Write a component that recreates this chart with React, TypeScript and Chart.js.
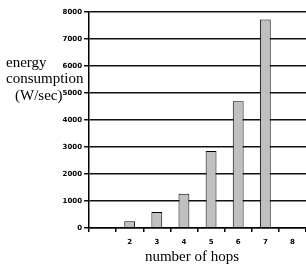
import React, { useEffect, useRef } from "react";
import { Chart, registerables } from "chart.js";

Chart.register(...registerables);

const hops = ["", "2", "3", "4", "5", "6", "7", "8"];
const energy = [0, 250, 590, 1270, 2850, 4690, 7720, 0];
const yTitleLines = ["energy", "consumption", "(W/sec)"];
const xTitle = "number of hops";

const titlePlugin = {
  id: "titles",
  afterDraw(chart: any) {
    const ctx = chart.ctx;
    ctx.save();
    ctx.fillStyle = "#000";
    ctx.font = "15px 'Liberation Serif', serif";
    ctx.textBaseline = "middle";
    ctx.textAlign = "left";
    const xs = [6, 6, 15];
    const ys = [63, 79, 96];
    yTitleLines.forEach((t, i) => ctx.fillText(t, xs[i], ys[i]));
    ctx.textAlign = "center";
    ctx.fillText(xTitle, 192, 257);
    ctx.restore();
  },
};

export default function App() {
  const ref = useRef<HTMLCanvasElement>(null);
  useEffect(() => {
    const chart = new Chart(ref.current!, {
      type: "bar",
      data: {
        labels: hops,
        datasets: [
          {
            data: energy,
            backgroundColor: "#c0c0c0",
            borderColor: "#000",
            borderWidth: 1,
            barPercentage: 0.4,
            categoryPercentage: 1,
          },
        ],
      },
      options: {
        animation: false,
        responsive: false,
        maintainAspectRatio: false,
        layout: { padding: { top: 12, right: 0, left: 0, bottom: 0 } },
        plugins: { legend: { display: false }, tooltip: { enabled: false } },
        scales: {
          x: {
            offset: true,
            grid: {
              offset: true,
              drawOnChartArea: false,
              drawTicks: true,
              tickLength: 4,
              tickColor: "#000",
              tickWidth: 1.5,
              color: "#000",
              lineWidth: 1.5,
            },
            border: { display: true, color: "#000", width: 1.5 },
            ticks: {
              color: "#000",
              font: { family: "'DejaVu Sans', sans-serif", size: 7, weight: "bold" },
              padding: 6,
              maxRotation: 0,
            },
            afterFit(scale: any) {
              scale.height = 36;
            },
          },
          y: {
            min: 0,
            max: 8000,
            grid: {
              color: "#111",
              lineWidth: 1.5,
              drawTicks: true,
              tickLength: 5,
            },
            border: { display: true, color: "#000", width: 1.5 },
            ticks: {
              stepSize: 1000,
              color: "#000",
              padding: 2,
              font: { family: "'DejaVu Sans', sans-serif", size: 7, weight: "bold" },
              callback: (v: any) => String(v),
            },
            afterFit(scale: any) {
              scale.width = 89;
            },
          },
        },
      },
      plugins: [titlePlugin],
    });
    return () => chart.destroy();
  }, []);
  return (
    <div style={{ position: "absolute", left: 0, top: 0, width: 306, height: 264, background: "#fff" }}>
      <canvas ref={ref} width={306} height={264} style={{ width: 306, height: 264 }} />
    </div>
  );
}
